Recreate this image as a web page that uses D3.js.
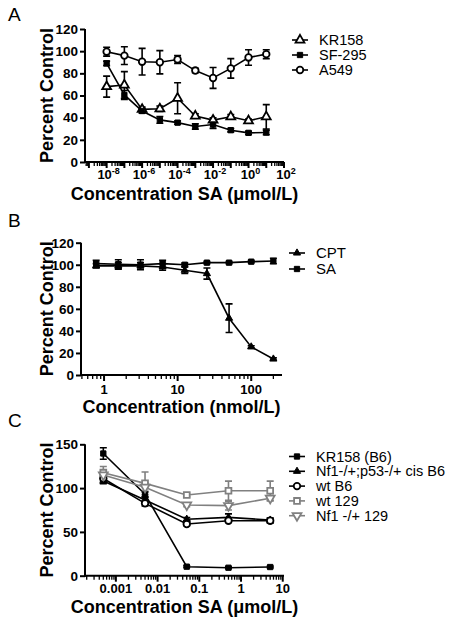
<!DOCTYPE html>
<html><head><meta charset="utf-8">
<script src="https://cdn.jsdelivr.net/npm/d3@7"></script>
<style>body{margin:0;background:#fff}svg{display:block}text{font-family:"Liberation Sans",Arial,sans-serif}</style>
</head><body>
<script>
// Panel A
const concA = [1e-8,1e-7,1e-6,1e-5,1e-4,1e-3,1e-2,1e-1,1,10];
const kr158A = [68,69.5,47.5,48,57.5,41.5,37.8,40.8,37.2,40.8];
const kr158AErr = [9.5,12,2,2.5,14,2,2,2,1.5,11];
const sf295A = [89,60.5,46,38,35.5,32,33.8,28.7,26.3,26.6];
const sf295AErr = [2,4,2,3,1.5,2.5,3.5,1.5,1.5,2];
const a549A = [99.5,96,90.5,90,92.5,82.5,75.8,84.5,94.3,97.3];
const a549AErr = [4,8,12,10.5,3.5,2,9.4,8.8,7,4];
const legendA = ["KR158","SF-295","A549"];
const yTicksA = [0,20,40,60,80,100,120];
const xTickExpA = [-8,-6,-4,-2,0,2];
// Panel B
const concB = [0.78125,1.5625,3.125,6.25,12.5,25,50,100,200];
const cptB = [99,99,99,98,95,92,51.5,25.5,14.5];
const cptBErr = [2,3,3,3,3,5,13,1,1];
const saB = [101,100.5,100,101,100,101.9,101.9,102.8,103.4];
const saBErr = [3,4,4.5,3,1.5,1,1,1,2.5];
const legendB = ["CPT","SA"];
const yTicksB = [0,20,40,60,80,100,120];
const xTicksB = [1,10,100];
// Panel C
const concC = [0.0005,0.005,0.05,0.5,5];
const kr158C = [139.5,93,10.3,9.1,9.9];
const kr158CErr = [6.5,3,1,1,1];
const nf1p53C = [108,86.5,64.5,66.6,63.5];
const nf1p53CErr = [3,3,2,4,2];
const wtB6C = [111,82.6,59,62.8,62.8];
const wtB6CErr = [3,3,2,2,3];
const wt129C = [117.6,105.4,92.1,97,97];
const wt129CErr = [7,13,2,11,11];
const nf1129C = [115,101,80.7,80,88.4];
const nf1129CErr = [4,5,2,5,3];
const legendC = ["KR158 (B6)","Nf1-/+;p53-/+ cis B6","wt B6","wt 129","Nf1 -/+ 129"];
const yTicksC = [0,50,100,150];
const xTicksC = [0.001,0.01,0.1,1,10];
const xTickLabelsC = ["0.001","0.01","0.1","1","10"];

const svg = d3.select("body").append("svg").attr("width",453).attr("height",625);
const GREY = "#808080";

function symbolPath(kind, size){
  if(kind==="tri"||kind==="triDown") return d3.symbol(d3.symbolTriangle, size)();
  if(kind==="square") return d3.symbol(d3.symbolSquare, size)();
  return d3.symbol(d3.symbolCircle, size)();
}
function drawMarker(g, x, y, m){
  g.append("path").attr("d", symbolPath(m.kind, m.size))
    .attr("transform", `translate(${x},${y})` + (m.kind==="triDown"?" rotate(180)":""))
    .attr("fill", m.fill ? m.color : "#fff").attr("stroke", m.color).attr("stroke-width", m.fill?1:1.8);
}

function panel(cfg){
  const g = svg.append("g");
  const x = d3.scaleLog().domain(cfg.xDomain).range(cfg.xRange);
  const y = d3.scaleLinear().domain(cfg.yDomain).range(cfg.yRange);
  g.append("text").attr("x",8).attr("y",cfg.letterY).attr("font-size",19).text(cfg.letter);
  // y axis
  const ya = g.append("g").attr("transform",`translate(${cfg.xRange[0]},0)`)
    .call(d3.axisLeft(y).tickValues(cfg.yTicks).tickSize(5).tickPadding(2).tickSizeOuter(0));
  ya.select(".domain").attr("stroke-width",2).attr("d",`M0,${cfg.yRange[0]+1}V${cfg.yRange[1]}`);
  ya.selectAll(".tick line").attr("stroke-width",2);
  ya.selectAll(".tick text").attr("font-size",13.5).attr("font-weight","bold").attr("fill","#000");
  // x axis
  const xa = g.append("g").attr("transform",`translate(0,${cfg.yRange[0]})`);
  xa.append("path").attr("d",`M${cfg.xRange[0]-1},0H${cfg.xRange[1]}`).attr("stroke","#000").attr("stroke-width",2);
  const lo = Math.floor(Math.log10(cfg.xDomain[0])), hi = Math.ceil(Math.log10(cfg.xDomain[1]));
  for(let e=lo;e<=hi;e++){
    for(let k=1;k<=9;k++){
      const v = k*Math.pow(10,e);
      if(v<cfg.xDomain[0]*0.999||v>cfg.xDomain[1]*1.001) continue;
      const major = k===1;
      xa.append("line").attr("x1",x(v)).attr("x2",x(v)).attr("y1",0).attr("y2",major?6:4)
        .attr("stroke","#000").attr("stroke-width",major?2:1.3);
    }
  }
  cfg.xLabels(xa, x);
  g.append("text").attr("x",(cfg.xRange[0]+cfg.xRange[1])/2).attr("y",cfg.xTitleY)
    .attr("text-anchor","middle").attr("font-size",18).attr("font-weight","bold").text(cfg.xTitle);
  g.append("text").attr("transform",`translate(53,${(cfg.yRange[0]+cfg.yRange[1])/2}) rotate(-90)`)
    .attr("text-anchor","middle").attr("font-size",18).attr("font-weight","bold").text("Percent Control");
  // series
  const line = d3.line().x(d=>x(d[0])).y(d=>y(d[1]));
  cfg.series.forEach(s=>{
    const pts = cfg.conc.map((c,i)=>[c,s.values[i],s.err[i]]);
    g.append("path").attr("d",line(pts)).attr("fill","none").attr("stroke",s.color).attr("stroke-width",1.6);
    pts.forEach(p=>{
      if(p[2]>0){
        const cx=x(p[0]), y1=y(p[1]+p[2]), y2=y(p[1]-p[2]);
        g.append("path").attr("d",`M${cx},${y1}V${y2}M${cx-3.5},${y1}H${cx+3.5}M${cx-3.5},${y2}H${cx+3.5}`)
          .attr("stroke",s.color).attr("stroke-width",1.6).attr("fill","none");
      }
    });
  });
  cfg.series.forEach(s=>{
    cfg.conc.forEach((c,i)=>drawMarker(g,x(c),y(s.values[i]),s));
  });
  // legend
  cfg.series.forEach((s,i)=>{
    const ly = cfg.legend.y + i*cfg.legend.dy;
    g.append("line").attr("x1",cfg.legend.x-8).attr("x2",cfg.legend.x+8).attr("y1",ly).attr("y2",ly)
      .attr("stroke",s.color).attr("stroke-width",1.6);
    drawMarker(g,cfg.legend.x,ly,s);
    g.append("text").attr("x",cfg.legend.x+19).attr("y",ly+5).attr("font-size",cfg.legend.fs).text(s.name);
  });
}

panel({
  letter:"A", letterY:21,
  xDomain:[Math.pow(10,-9.22),100], xRange:[85,284],
  yDomain:[0,120], yRange:[162,29], yTicks:yTicksA,
  conc:concA,
  xLabels:(xa,x)=>{
    xTickExpA.forEach(e=>{
      const t = xa.append("text").attr("x",x(Math.pow(10,e))+2).attr("y",17).attr("text-anchor","middle")
        .attr("font-size",13).attr("font-weight","bold");
      t.append("tspan").text("10");
      t.append("tspan").attr("dy",-5).attr("font-size",9).text(String(e));
    });
  },
  xTitle:"Concentration SA (\u03BCmol/L)", xTitleY:200,
  series:[
    {name:legendA[0],values:kr158A,err:kr158AErr,color:"#000",kind:"tri",size:34,fill:false},
    {name:legendA[1],values:sf295A,err:sf295AErr,color:"#000",kind:"square",size:28,fill:true},
    {name:legendA[2],values:a549A,err:a549AErr,color:"#000",kind:"circle",size:34,fill:false}
  ],
  legend:{x:300,y:40,dy:15,fs:14.5}
});

panel({
  letter:"B", letterY:227,
  xDomain:[0.486,262], xRange:[81,282],
  yDomain:[0,120], yRange:[375,242.7], yTicks:yTicksB,
  conc:concB,
  xLabels:(xa,x)=>{
    xTicksB.forEach(v=>{
      xa.append("text").attr("x",x(v)).attr("y",19).attr("text-anchor","middle")
        .attr("font-size",13).attr("font-weight","bold").text(String(v));
    });
  },
  xTitle:"Concentration (nmol/L)", xTitleY:413,
  series:[
    {name:legendB[0],values:cptB,err:cptBErr,color:"#000",kind:"tri",size:22,fill:true},
    {name:legendB[1],values:saB,err:saBErr,color:"#000",kind:"square",size:28,fill:true}
  ],
  legend:{x:297,y:253,dy:16,fs:15}
});

panel({
  letter:"C", letterY:427,
  xDomain:[Math.pow(10,-3.74),Math.pow(10,1.03)], xRange:[85,284],
  yDomain:[0,150], yRange:[575.7,444.3], yTicks:yTicksC,
  conc:concC,
  xLabels:(xa,x)=>{
    xTicksC.forEach((v,i)=>{
      xa.append("text").attr("x",x(v)).attr("y",17).attr("text-anchor","middle")
        .attr("font-size",13).attr("font-weight","bold").text(xTickLabelsC[i]);
    });
  },
  xTitle:"Concentration SA (\u03BCmol/L)", xTitleY:613,
  series:[
    {name:legendC[0],values:kr158C,err:kr158CErr,color:"#000",kind:"square",size:28,fill:true},
    {name:legendC[1],values:nf1p53C,err:nf1p53CErr,color:"#000",kind:"tri",size:22,fill:true},
    {name:legendC[2],values:wtB6C,err:wtB6CErr,color:"#000",kind:"circle",size:34,fill:false},
    {name:legendC[3],values:wt129C,err:wt129CErr,color:GREY,kind:"square",size:34,fill:false},
    {name:legendC[4],values:nf1129C,err:nf1129CErr,color:GREY,kind:"triDown",size:34,fill:false}
  ],
  legend:{x:297,y:456.5,dy:14.8,fs:14.5}
});
</script>
</body></html>
